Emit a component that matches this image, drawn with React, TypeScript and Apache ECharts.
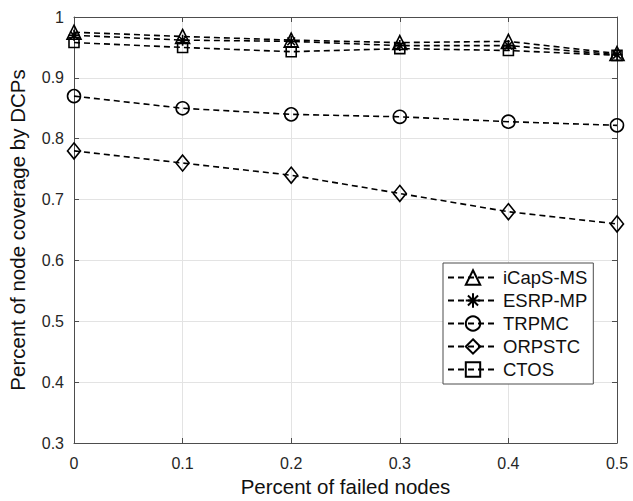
import React, { useEffect, useRef } from "react";
import * as echarts from "echarts";

const xValues = [0, 0.1, 0.2, 0.3, 0.4, 0.5];
const seriesNames = ["iCapS-MS", "ESRP-MP", "TRPMC", "ORPSTC", "CTOS"];
const icapsMs = [0.975, 0.968, 0.962, 0.958, 0.96, 0.94];
const esrpMp = [0.97, 0.962, 0.96, 0.953, 0.953, 0.938];
const trpmc = [0.87, 0.85, 0.84, 0.836, 0.828, 0.822];
const orpstc = [0.78, 0.76, 0.74, 0.71, 0.68, 0.66];
const ctos = [0.958, 0.95, 0.943, 0.948, 0.945, 0.937];

const asterisk =
  "path://M10,0 L10,20 M0,10 L20,10 M3,3 L17,17 M3,17 L17,3";

const FONT = "Liberation Sans, Arial, sans-serif";

export default function App() {
  const ref = useRef<HTMLDivElement>(null);
  useEffect(() => {
    document.body.style.margin = "0";
    if (!ref.current) return;
    const chart = echarts.init(ref.current, undefined, { renderer: "svg" });
    const mk = (name: string, data: number[], symbol: string, size: number | number[]) => ({
      name,
      type: "line",
      data: xValues.map((x, i) => [x, data[i]]),
      symbol,
      symbolSize: size,
      showSymbol: true,
      lineStyle: { color: "#000", width: 1.6, type: [6, 4] },
      itemStyle: { color: "rgba(255,255,255,0)", borderColor: "#000", borderWidth: 1.6 },
      emphasis: { disabled: true },
      z: 3,
    });
    const series: any[] = [
      mk(seriesNames[0], icapsMs, "triangle", 14),
      mk(seriesNames[1], esrpMp, asterisk, 11),
      mk(seriesNames[2], trpmc, "circle", 13),
      mk(seriesNames[3], orpstc, "diamond", [13, 16]),
      mk(seriesNames[4], ctos, "rect", 10),
    ];
    const axisLineStyle = { color: "#4d4d4d", width: 1 };
    chart.setOption({
      animation: false,
      backgroundColor: "#fff",
      grid: {
        left: 74,
        right: 16,
        top: 17,
        bottom: 58,
        containLabel: false,
        outerBoundsMode: "none",
      },
      legend: {
        data: seriesNames,
        orient: "vertical",
        left: 443,
        top: 263,
        backgroundColor: "#fff",
        borderColor: "#4d4d4d",
        borderWidth: 1,
        borderRadius: 0,
        padding: [5, 6, 5, 4],
        itemWidth: 50,
        itemHeight: 18,
        itemGap: 4,
        textStyle: { fontFamily: FONT, fontSize: 18.5, color: "#111" },
      },
      xAxis: [
        {
          type: "value",
          min: 0,
          max: 0.5,
          interval: 0.1,
          name: "Percent of failed nodes",
          nameLocation: "middle",
          nameGap: 29,
          nameTextStyle: { fontFamily: FONT, fontSize: 20.5, color: "#111" },
          axisLine: { show: true, onZero: false, lineStyle: axisLineStyle },
          axisTick: { show: true, inside: true, length: 5, lineStyle: axisLineStyle },
          axisLabel: {
            fontFamily: FONT,
            fontSize: 16,
            color: "#262626",
            margin: 12,
            formatter: (v: number) => String(Math.round(v * 10) / 10),
          },
          splitLine: { show: true, lineStyle: { color: "#e3e3e3", width: 1 } },
        },
        {
          type: "value",
          position: "top",
          min: 0,
          max: 0.5,
          interval: 0.1,
          axisLine: { show: true, onZero: false, lineStyle: axisLineStyle },
          axisTick: { show: true, inside: true, length: 5, lineStyle: axisLineStyle },
          axisLabel: { show: false },
          splitLine: { show: false },
        },
      ],
      yAxis: [
        {
          type: "value",
          min: 0.3,
          max: 1,
          interval: 0.1,
          name: "Percent of node coverage by DCPs",
          nameLocation: "middle",
          nameGap: 46,
          nameTextStyle: { fontFamily: FONT, fontSize: 20.5, color: "#111" },
          axisLine: { show: true, onZero: false, lineStyle: axisLineStyle },
          axisTick: { show: true, inside: true, length: 5, lineStyle: axisLineStyle },
          axisLabel: {
            fontFamily: FONT,
            fontSize: 16,
            color: "#262626",
            margin: 10,
            formatter: (v: number) => String(Math.round(v * 10) / 10),
          },
          splitLine: { show: true, lineStyle: { color: "#e3e3e3", width: 1 } },
        },
        {
          type: "value",
          position: "right",
          min: 0.3,
          max: 1,
          interval: 0.1,
          axisLine: { show: true, onZero: false, lineStyle: axisLineStyle },
          axisTick: { show: true, inside: true, length: 5, lineStyle: axisLineStyle },
          axisLabel: { show: false },
          splitLine: { show: false },
        },
      ],
      series,
    });
    return () => chart.dispose();
  }, []);
  return <div ref={ref} style={{ width: 633, height: 501 }} />;
}
